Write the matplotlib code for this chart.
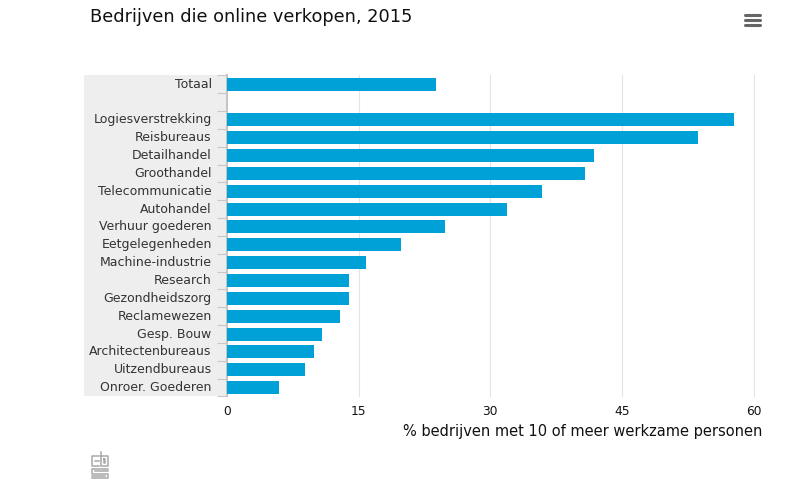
import matplotlib
matplotlib.use("Agg")
import matplotlib.pyplot as plt
from matplotlib.patches import Rectangle
from matplotlib.lines import Line2D
from matplotlib.transforms import ScaledTranslation

W, H = 801, 490

# Data
categories = ["Totaal", "", "Logiesverstrekking", "Reisbureaus", "Detailhandel", "Groothandel",
              "Telecommunicatie", "Autohandel", "Verhuur goederen", "Eetgelegenheden",
              "Machine-industrie", "Research", "Gezondheidszorg", "Reclamewezen",
              "Gesp. Bouw", "Architectenbureaus", "Uitzendbureaus", "Onroer. Goederen"]
values = [23.8, 0, 57.8, 53.7, 41.8, 40.8, 35.9, 31.9, 24.9, 19.8, 15.8, 13.9, 13.9, 12.9, 10.8, 9.9, 8.9, 5.9]
xticks = [0, 15, 30, 45, 60]

BAR_COLOR = "#00a1d6"
TEXT_COLOR = "#333333"
plt.rcParams["font.family"] = ["DejaVu Sans"]

fig = plt.figure(figsize=(W / 100, H / 100), dpi=100)


def fx(px):
    return px / W


def fy(py):
    return 1 - py / H


# Plot area in pixels
left, right, top, bottom = 227, 762, 75.3, 396.5
ax = fig.add_axes([fx(left), fy(bottom), (right - left) / W, (bottom - top) / H])

# Grey band behind the category labels
fig.patches.append(Rectangle((fx(84), fy(396)), (left - 84) / W, (396 - 75) / H,
                             transform=fig.transFigure, facecolor="#eeeeee",
                             edgecolor="none", zorder=-1))

ypos = list(range(len(categories)))
ax.barh(ypos, values, height=0.73, color=BAR_COLOR, zorder=3)
ax.set_ylim(len(categories) - 0.5, -0.5)
ax.set_xlim(0, (right - left) / 8.775)
ax.patch.set_alpha(0)

ax.set_xticks(xticks)
ax.set_yticks(ypos)
ax.set_yticklabels(categories, fontsize=9.0, color=TEXT_COLOR)
ax.tick_params(axis="y", length=0, pad=11)
ax.tick_params(axis="x", length=0, pad=6, labelsize=8.8, labelcolor="#111111")
ax.grid(axis="x", color="#e4e4e4", linewidth=0.8, zorder=0)
ax.set_axisbelow(True)

# labels sit a little above the bar centres
up = ScaledTranslation(0, 1.5 / 100, fig.dpi_scale_trans)
for lab in ax.get_yticklabels():
    lab.set_transform(lab.get_transform() + up)

for s in ["top", "right", "bottom"]:
    ax.spines[s].set_visible(False)
ax.spines["left"].set_color("#c4c4c4")
ax.spines["left"].set_linewidth(1.4)

# Ticks sit on the category boundaries
ax.set_yticks([y - 0.5 for y in range(len(categories) + 1)], minor=True)
ax.tick_params(axis="y", which="minor", length=7.2, color="#c8c8c8", width=0.8)

fig.text(fx(762), fy(431), "% bedrijven met 10 of meer werkzame personen", ha="right", va="center",
         fontsize=10.53, color="#111111")
fig.text(fx(90), fy(17), "Bedrijven die online verkopen, 2015", ha="left", va="center",
         fontsize=12.8, color="#111111")

# Menu icon
for py in [15.5, 20.5, 25.5]:
    fig.add_artist(Line2D([fx(744.5), fx(759.5)], [fy(py), fy(py)], color="#666666", linewidth=2.2,
                          solid_capstyle="round"))

# CBS logo
logo = [
    [(99, 456), (92, 456), (92, 466), (99, 466)],
    [(95, 461), (99, 461)],
    [(101, 452), (101, 466), (108, 466), (108, 456), (101, 456)],
    [(104, 459), (105.5, 459), (105.5, 463), (104, 463), (104, 459)],
    [(108, 469), (92, 469), (92, 473.5), (108, 473.5), (108, 478), (92, 478)],
    [(95, 471.2), (108, 471.2)],
    [(92, 475.8), (105, 475.8)],
]
for seg in logo:
    fig.add_artist(Line2D([fx(p[0]) for p in seg], [fy(p[1]) for p in seg], color="#a8a8a8",
                          linewidth=1.1))

fig.savefig("out.png", dpi=100)
